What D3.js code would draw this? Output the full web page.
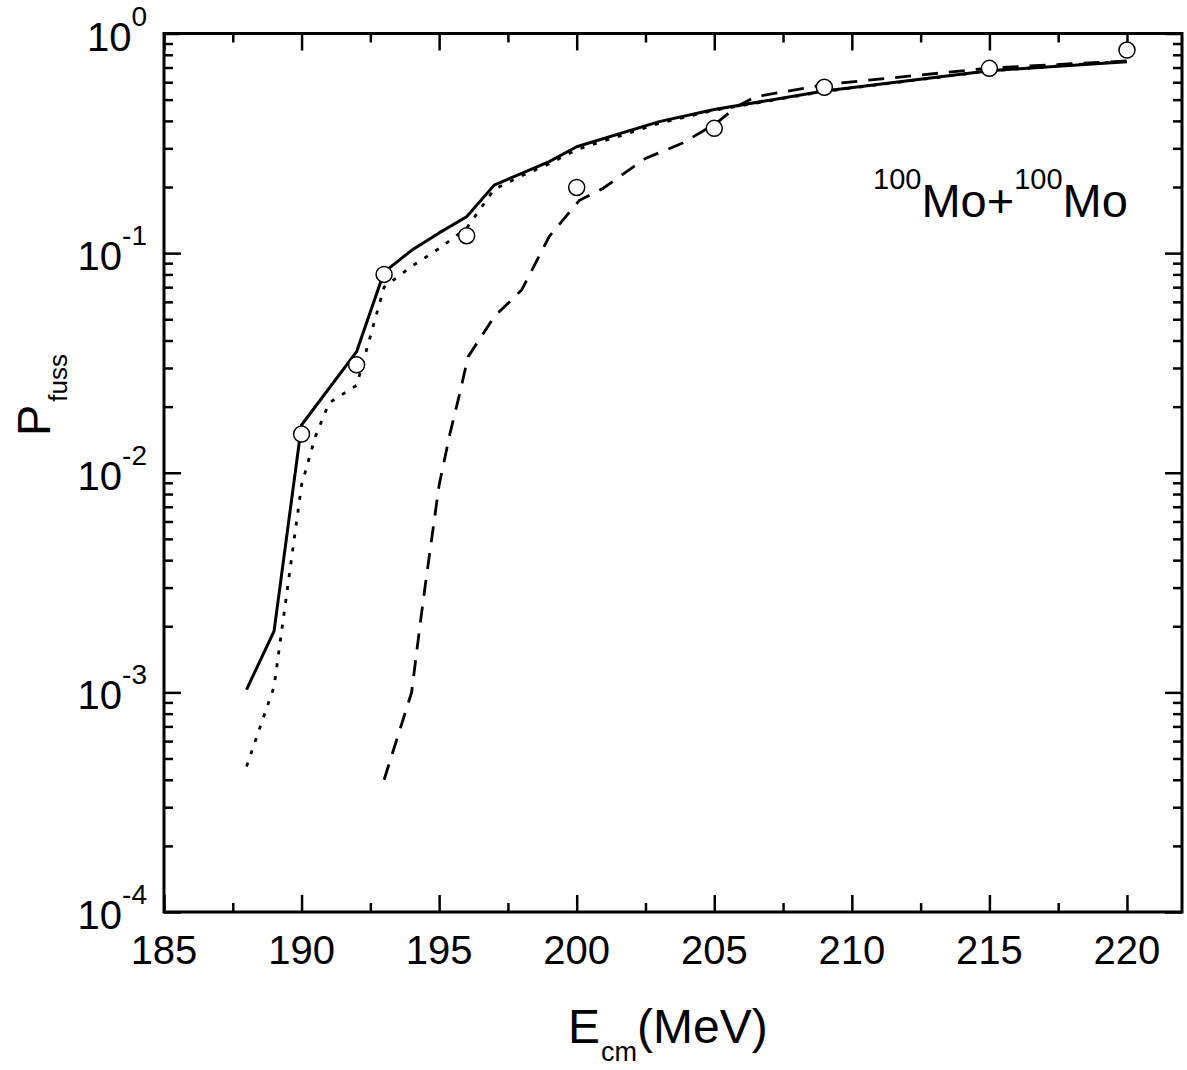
<!DOCTYPE html>
<html>
<head>
<meta charset="utf-8">
<script src="https://cdn.jsdelivr.net/npm/d3@7"></script>
<style>
  html, body { margin: 0; padding: 0; background: #fff; }
  svg { display: block; }
  text { font-family: "Liberation Sans", Arial, Helvetica, sans-serif; fill: #000; }
</style>
</head>
<body>
<svg id="chart" width="1187" height="1070"></svg>
<script>
// ---- data ----
const pointsE = [190, 192, 193, 196, 200, 205, 209, 215, 220];
const pointsP = [0.015, 0.031, 0.08, 0.12, 0.199, 0.37, 0.569, 0.694, 0.841];

const solidE = [188, 189, 190, 192, 193, 194, 195, 196, 197, 198, 199, 200, 203, 205, 209, 215, 220];
const solidP = [0.00103, 0.0019, 0.0165, 0.0356, 0.082, 0.103, 0.1236, 0.1465, 0.204, 0.231, 0.261, 0.305, 0.397, 0.451, 0.547, 0.677, 0.744];

const dottedE = [188, 189, 190, 190.5, 191, 192, 193, 194, 195, 196, 197, 198, 199, 200, 203, 205, 209, 215, 220];
const dottedP = [0.00046, 0.00106, 0.0088, 0.0146, 0.0208, 0.025, 0.07, 0.087, 0.105, 0.13, 0.195, 0.225, 0.255, 0.296, 0.39, 0.447, 0.545, 0.675, 0.75];

const dashedE = [193, 194, 194.3, 194.5, 195, 195.4, 195.75, 196.05, 197, 198, 199, 200.1, 200.95, 202.5, 203.85, 205.07, 205.8, 206.5, 209, 215, 220];
const dashedP = [0.0004, 0.001, 0.002, 0.0031, 0.0088, 0.0152, 0.023, 0.0337, 0.0513, 0.068, 0.119, 0.174, 0.197, 0.27, 0.317, 0.39, 0.464, 0.515, 0.585, 0.696, 0.75];

const xTickValues = [185, 190, 195, 200, 205, 210, 215, 220];
const xTickLabels = ["185", "190", "195", "200", "205", "210", "215", "220"];
const yTickExponents = [0, -1, -2, -3, -4];

// ---- layout ----
const mLeft = 164, mRight = 1182, mTop = 33.5, mBottom = 912;
const svg = d3.select("#chart");

const x = d3.scaleLinear().domain([185, 222]).range([mLeft, mRight]);
const y = d3.scaleLog().domain([1e-4, 1]).range([mBottom, mTop]);

const majorLen = 17, minorLen = 9;
const axisColor = "#000";

const xMinor = d3.range(187.5, 222, 5);
const yMinor = [];
for (let e = -4; e < 0; e++) for (let m = 2; m <= 9; m++) yMinor.push(m * Math.pow(10, e));
const yMajorVals = yTickExponents.map(e => Math.pow(10, e));

// Bottom axis
const gB = svg.append("g").attr("transform", `translate(0,${mBottom})`);
gB.call(d3.axisBottom(x).tickValues(xTickValues).tickSize(-majorLen).tickFormat(""));
gB.append("g").call(d3.axisBottom(x).tickValues(xMinor).tickSize(-minorLen).tickFormat(""));
// Top axis
const gT = svg.append("g").attr("transform", `translate(0,${mTop})`);
gT.call(d3.axisTop(x).tickValues(xTickValues).tickSize(-majorLen).tickFormat(""));
gT.append("g").call(d3.axisTop(x).tickValues(xMinor).tickSize(-minorLen).tickFormat(""));
// Left axis
const gL = svg.append("g").attr("transform", `translate(${mLeft},0)`);
gL.call(d3.axisLeft(y).tickValues(yMajorVals).tickSize(-majorLen).tickFormat(""));
gL.append("g").call(d3.axisLeft(y).tickValues(yMinor).tickSize(-minorLen).tickFormat(""));
// Right axis
const gR = svg.append("g").attr("transform", `translate(${mRight},0)`);
gR.call(d3.axisRight(y).tickValues(yMajorVals).tickSize(-majorLen).tickFormat(""));
gR.append("g").call(d3.axisRight(y).tickValues(yMinor).tickSize(-minorLen).tickFormat(""));

svg.selectAll(".domain").remove();
svg.selectAll(".tick line").attr("stroke", axisColor).attr("stroke-width", 2.5);

// Frame
svg.append("rect")
  .attr("x", mLeft).attr("y", mTop)
  .attr("width", mRight - mLeft).attr("height", mBottom - mTop)
  .attr("fill", "none").attr("stroke", axisColor).attr("stroke-width", 3);

// X tick labels
svg.append("g").selectAll("text").data(xTickValues).join("text")
  .attr("x", d => x(d)).attr("y", 964)
  .attr("text-anchor", "middle")
  .attr("font-size", 40)
  .text((d, i) => xTickLabels[i]);

// Y tick labels (10^n)
const yl = svg.append("g").selectAll("text").data(yTickExponents).join("text")
  .attr("x", 147).attr("y", d => y(Math.pow(10, d)) + 17)
  .attr("text-anchor", "end");
yl.append("tspan").attr("font-size", 40).text("10");
yl.append("tspan").attr("font-size", 28).attr("dy", -25).text(d => String(d));

// Lines
const line = d3.line().x(d => x(d[0])).y(d => y(d[1]));
const zip = (a, b) => a.map((v, i) => [v, b[i]]);

svg.append("path").datum(zip(dashedE, dashedP))
  .attr("d", line).attr("fill", "none").attr("stroke", "#000")
  .attr("stroke-width", 2.8).attr("stroke-dasharray", "16,11");

svg.append("path").datum(zip(dottedE, dottedP))
  .attr("d", line).attr("fill", "none").attr("stroke", "#000")
  .attr("stroke-width", 2.8).attr("stroke-dasharray", "4,9");

svg.append("path").datum(zip(solidE, solidP))
  .attr("d", line).attr("fill", "none").attr("stroke", "#000")
  .attr("stroke-width", 3).attr("stroke-linejoin", "round");

// Data points
svg.append("g").selectAll("circle").data(zip(pointsE, pointsP)).join("circle")
  .attr("cx", d => x(d[0])).attr("cy", d => y(d[1])).attr("r", 8)
  .attr("fill", "#fff").attr("stroke", "#000").attr("stroke-width", 1.5);

// Annotation 100Mo+100Mo
const ann = svg.append("text").attr("x", 873).attr("y", 217);
ann.append("tspan").attr("font-size", 29).attr("dy", -28).text("100");
ann.append("tspan").attr("font-size", 47).attr("dy", 28).text("Mo+");
ann.append("tspan").attr("font-size", 29).attr("dy", -28).text("100");
ann.append("tspan").attr("font-size", 47).attr("dy", 28).text("Mo");

// X axis title
const xt = svg.append("text").attr("x", 568).attr("y", 1043);
xt.append("tspan").attr("font-size", 48).text("E");
xt.append("tspan").attr("font-size", 27).attr("dy", 18).attr("dx", 1).text("cm");
xt.append("tspan").attr("font-size", 48).attr("dy", -18).text("(MeV)");

// Y axis title
const yt = svg.append("text").attr("transform", "translate(50,436) rotate(-90)");
yt.append("tspan").attr("font-size", 47).text("P");
yt.append("tspan").attr("font-size", 26).attr("dy", 17).attr("dx", 3).text("fuss");
</script>
</body>
</html>
